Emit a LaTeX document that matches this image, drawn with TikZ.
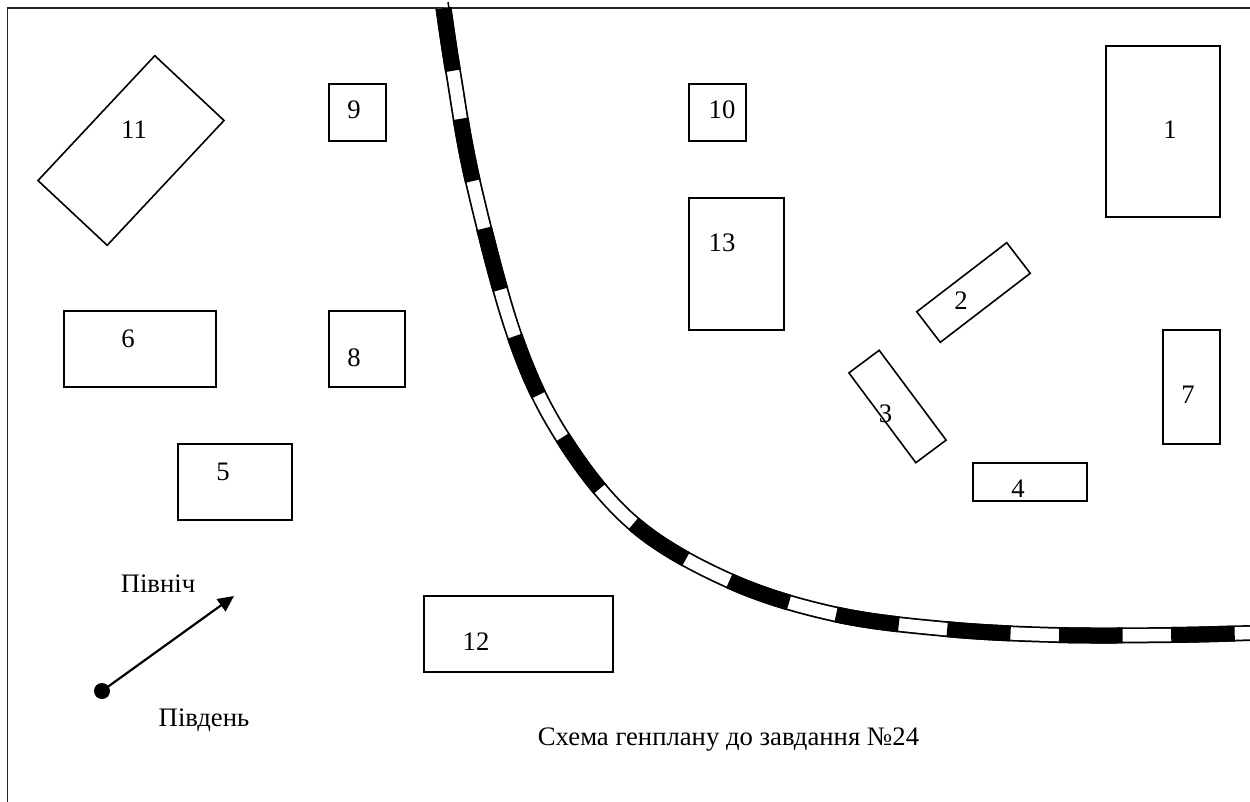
\documentclass[tikz,border=0pt]{standalone}
\usepackage{fontspec}
\setmainfont{Liberation Serif}
\usetikzlibrary{arrows.meta}
\tikzset{
  building/.style={draw=black,line width=1.6pt,rectangle,inner sep=0pt,outer sep=0pt},
  tag/.style={inner sep=0pt,outer sep=0pt,font=\fontsize{26.7}{30}\selectfont},
  word/.style={tag,anchor=base},
  frameline/.style={draw=black!85,line width=1.8pt},
}
\def\railpath{plot[smooth,tension=0.6] coordinates {(443.5,8) (453,71) (473,182) (515,337) (563,438) (634,524) (730,581) (834,614) (945,629) (1057,635) (1171,635) (1250,633)}}
\begin{document}
\begin{tikzpicture}[x=1pt,y=-1pt]
\useasboundingbox (0,0) rectangle (1250,802);
% frame
\coordinate (fa) at (7.5,802);
\coordinate (fb) at (7.5,8);
\coordinate (fc) at (1250,8);
\draw[frameline] (fa) -- (fb) -- (fc);
% railway
\draw[line width=16pt,black] \railpath;
\draw[line width=12.5pt,white] \railpath;
\draw[line width=16pt,black,dash pattern=on 63.5pt off 48.6pt] \railpath;
\coordinate (ra) at (449,8);
\coordinate (rb) at (448,2);
\draw[line width=1.5pt] (ra) -- (rb);
% buildings
\node[building,minimum width=114pt,minimum height=171pt] (b1) at (1163,131.5) {};
\node[building,minimum width=113.4pt,minimum height=38.6pt,rotate=37.5] (b2) at (973.5,292.5) {};
\node[building,minimum width=112pt,minimum height=37.8pt,rotate=-53.3] (b3) at (897.5,406.5) {};
\node[building,minimum width=114pt,minimum height=38pt] (b4) at (1030,482) {};
\node[building,minimum width=114pt,minimum height=76pt] (b5) at (235,482) {};
\node[building,minimum width=152pt,minimum height=76pt] (b6) at (140,349) {};
\node[building,minimum width=57pt,minimum height=114pt] (b7) at (1191.5,387) {};
\node[building,minimum width=76pt,minimum height=76pt] (b8) at (367,349) {};
\node[building,minimum width=57pt,minimum height=57pt] (b9) at (357.5,112.5) {};
\node[building,minimum width=57pt,minimum height=57pt] (b10) at (717.5,112.5) {};
\node[building,minimum width=171pt,minimum height=94.8pt,rotate=46.9] (b11) at (131,150.5) {};
\node[building,minimum width=189pt,minimum height=76pt] (b12) at (518.5,634) {};
\node[building,minimum width=95pt,minimum height=132pt] (b13) at (736.5,264) {};
% numbers
\node[tag] (t1) at (1170,130) {1};
\node[tag] (t2) at (961,301) {2};
\node[tag] (t3) at (885.5,413.5) {3};
\node[tag] (t4) at (1018,489) {4};
\node[tag] (t5) at (223,472) {5};
\node[tag] (t6) at (128,339) {6};
\node[tag] (t7) at (1188,395) {7};
\node[tag] (t8) at (354,358) {8};
\node[tag] (t9) at (354,110) {9};
\node[tag] (t10) at (722,110) {10};
\node[tag] (t11) at (134,130) {11};
\node[tag] (t12) at (476,642) {12};
\node[tag] (t13) at (722,243) {13};
% north arrow
\node[circle,fill=black,minimum size=16pt,inner sep=0pt,outer sep=0pt] (dot) at (102,691) {};
\coordinate (tip) at (234,596);
\draw[line width=2.2pt,-{Triangle[length=16pt,width=15pt]}] (dot.center) -- (tip);
\node[word] (north) at (158,592.7) {Північ};
\node[word] (south) at (204,726) {Південь};
\node[word] (cap) at (728.5,745.5) {Схема генплану до завдання №24};
\end{tikzpicture}
\end{document}
